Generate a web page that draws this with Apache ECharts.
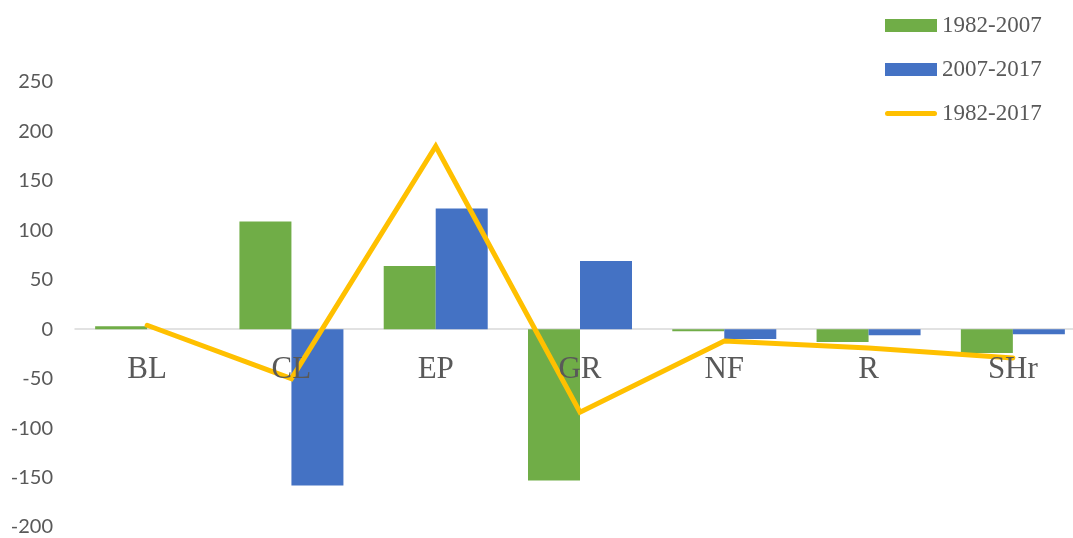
<!DOCTYPE html>
<html>
<head>
<meta charset="utf-8">
<title>Land-use change</title>
<script src="https://cdn.jsdelivr.net/npm/echarts@6/dist/echarts.min.js"></script>
<style>
  html, body { margin: 0; padding: 0; background: #ffffff; }
  #chart { width: 1073px; height: 538px; }
</style>
</head>
<body>
<div id="chart"></div>
<script>
// Land-use classes along the x axis
const categories = ['BL', 'CL', 'EP', 'GR', 'NF', 'R', 'SHr'];

// Change per period
const change1982to2007 = [3, 109, 64, -153, -2, -13, -24];
const change2007to2017 = [0, -158, 122, 69, -10, -6, -5];
const change1982to2017 = [4, -50, 185, -84, -12, -19, -29];

const seriesNames = ['1982-2007', '2007-2017', '1982-2017'];

const textGrey = '#595959';
const serif = '"Liberation Serif", "Times New Roman", serif';

// Thin rounded bar used as the legend mark of the line series
const lineIcon = 'path://M2.5,0 H49.5 A2.5,2.5 0 0 1 49.5,5 H2.5 A2.5,2.5 0 0 1 2.5,0 Z';

const chart = echarts.init(document.getElementById('chart'), null, { renderer: 'canvas' });

chart.setOption({
  animation: false,
  backgroundColor: '#ffffff',
  grid: { left: 75, right: -12, top: 82, bottom: 11, containLabel: false, outerBoundsMode: 'none' },
  legend: {
    orient: 'vertical',
    left: 885,
    top: 14,
    padding: 0,
    itemWidth: 52,
    itemHeight: 13,
    itemGap: 21,
    symbolKeepAspect: true,
    textStyle: { fontFamily: serif, fontSize: 23, color: textGrey },
    data: [
      { name: seriesNames[0], icon: 'rect' },
      { name: seriesNames[1], icon: 'rect' },
      { name: seriesNames[2], icon: lineIcon, itemStyle: { color: '#FFC000' } }
    ]
  },
  xAxis: {
    type: 'category',
    data: categories,
    boundaryGap: true,
    axisLine: { onZero: true, lineStyle: { color: '#D9D9D9', width: 1.5 } },
    axisTick: { show: false },
    axisLabel: { show: false },
    splitLine: { show: false }
  },
  yAxis: {
    type: 'value',
    min: -200,
    max: 250,
    interval: 50,
    axisLine: { show: false },
    axisTick: { show: false },
    splitLine: { show: false },
    axisLabel: { fontFamily: 'Lato, "Open Sans", sans-serif', fontSize: 20, color: textGrey, margin: 22 }
  },
  series: [
    {
      name: seriesNames[0],
      type: 'bar',
      data: change1982to2007,
      barWidth: 52,
      barGap: '0%',
      itemStyle: { color: '#70AD47' }
    },
    {
      name: seriesNames[1],
      type: 'bar',
      data: change2007to2017,
      barWidth: 52,
      barGap: '0%',
      itemStyle: { color: '#4472C4' }
    },
    {
      name: seriesNames[2],
      type: 'line',
      data: change1982to2017,
      symbol: 'none',
      showSymbol: false,
      z: 5,
      itemStyle: { color: '#FFC000' },
      lineStyle: { color: '#FFC000', width: 5, cap: 'round', join: 'miter' }
    },
    {
      // category names drawn just below the zero line
      name: 'categoryLabels',
      type: 'scatter',
      data: categories.map(function (c) { return [c, 0]; }),
      symbolSize: 0,
      silent: true,
      z: 6,
      itemStyle: { opacity: 1 },
      label: {
        show: true,
        position: 'bottom',
        distance: 25,
        formatter: function (p) { return p.value[0]; },
        fontFamily: serif,
        fontSize: 31,
        color: textGrey,
        opacity: 1
      }
    }
  ]
});
</script>
</body>
</html>
